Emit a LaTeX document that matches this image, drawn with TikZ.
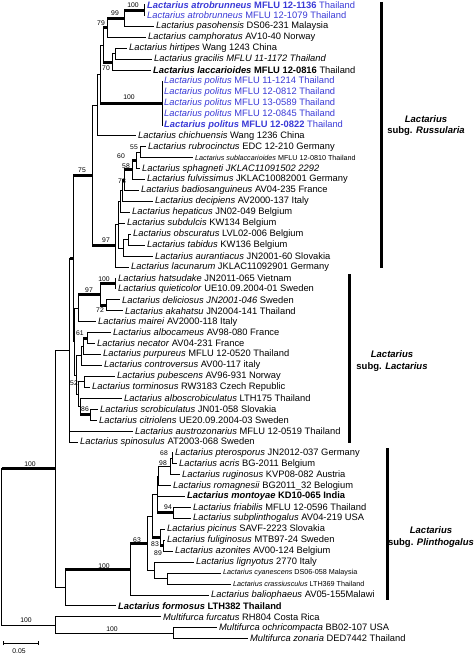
\documentclass[tikz,border=0pt]{standalone}
\usepackage{fontspec}
\setmainfont{Liberation Sans}
\usepackage{xcolor}
\definecolor{taxblue}{RGB}{58,58,214}
\tikzset{
  taxon/.style={anchor=west, inner xsep=1.6pt, inner ysep=0pt, font=\fontsize{9.35}{11}\selectfont},
  taxsmall/.style={taxon, font=\fontsize{7.2}{9}\selectfont},
  tblue/.style={text=taxblue},
  br/.style={line width=0.8pt},
  thk/.style={line width=3pt},
  bs/.style={inner sep=0pt, font=\fontsize{6.8}{8}\selectfont},
  cladebar/.style={line width=3pt},
  clade/.style={align=center, font=\fontsize{9.5}{11.5}\selectfont\bfseries}
}

\begin{document}
\begin{tikzpicture}[x=1pt,y=-1pt]
  \useasboundingbox (0,0) rectangle (474,655);

  % taxa
  \node[taxon,tblue] (t1) at (145.4,4.7) {\textbf{\textit{Lactarius atrobrunneus} MFLU 12-1136} Thailand};
  \node[taxon,tblue] (t2) at (145.4,15.63) {\textit{Lactarius atrobrunneus} MFLU 12-1079 Thailand};
  \node[taxon] (t3) at (154.4,26.56) {\textit{Lactarius pasohensis} DS06-231 Malaysia};
  \node[taxon] (t4) at (146.4,37.49) {\textit{Lactarius camphoratus} AV10-40 Norway};
  \node[taxon] (t5) at (127.4,48.42) {\textit{Lactarius hirtipes} Wang 1243 China};
  \node[taxon] (t6) at (152.4,59.35) {\textit{Lactarius gracilis MFLU 11-1172 Thailand}};
  \node[taxon] (t7) at (151.4,70.28) {\textbf{\textit{Lactarius laccarioides} MFLU 12-0816} Thailand};
  \node[taxon,tblue] (t8) at (162.4,81.21) {\textit{Lactarius politus} MFLU 11-1214 Thailand};
  \node[taxon,tblue] (t9) at (162.4,92.14) {\textit{Lactarius politus} MFLU 12-0812 Thailand};
  \node[taxon,tblue] (t10) at (162.4,103.07) {\textit{Lactarius politus} MFLU 13-0589 Thailand};
  \node[taxon,tblue] (t11) at (162.4,114.0) {\textit{Lactarius politus} MFLU 12-0845 Thailand};
  \node[taxon,tblue] (t12) at (162.4,124.93) {\textbf{\textit{Lactarius politus} MFLU 12-0822} Thailand};
  \node[taxon] (t13) at (136.4,135.86) {\textit{Lactarius chichuensis} Wang 1236 China};
  \node[taxon] (t14) at (146.4,146.79) {\textit{Lactarius rubrocinctus} EDC 12-210 Germany};
  \node[taxsmall] (t15) at (193.4,157.72) {\textit{Lactarius sublaccarioides} MFLU 12-0810 Thailand};
  \node[taxon] (t16) at (140.4,168.65) {\textit{Lactarius sphagneti JKLAC11091502 2292}};
  \node[taxon] (t17) at (145.4,179.58) {\textit{Lactarius fulvissimus} JKLAC10082001 Germany};
  \node[taxon] (t18) at (139.4,190.51) {\textit{Lactarius badiosanguineus} AV04-235 France};
  \node[taxon] (t19) at (153.4,201.44) {\textit{Lactarius decipiens} AV2000-137 Italy};
  \node[taxon] (t20) at (130.4,212.37) {\textit{Lactarius hepaticus} JN02-049 Belgium};
  \node[taxon] (t21) at (125.4,223.3) {\textit{Lactarius subdulcis} KW134 Belgium};
  \node[taxon] (t22) at (131.4,234.23) {\textit{Lactarius obscuratus} LVL02-006 Belgium};
  \node[taxon] (t23) at (145.4,245.16) {\textit{Lactarius tabidus} KW136 Belgium};
  \node[taxon] (t24) at (153.4,256.09) {\textit{Lactarius aurantiacus} JN2001-60 Slovakia};
  \node[taxon] (t25) at (129.4,267.02) {\textit{Lactarius lacunarum} JKLAC11092901 Germany};
  \node[taxon] (t26) at (116.4,277.95) {\textit{Lactarius hatsudake} JN2011-065 Vietnam};
  \node[taxon] (t27) at (116.4,288.88) {\textit{Lactarius quieticolor} UE10.09.2004-01 Sweden};
  \node[taxon] (t28) at (120.4,299.81) {\textit{Lactarius deliciosus JN2001-046} Sweden};
  \node[taxon] (t29) at (123.4,310.74) {\textit{Lactarius akahatsu} JN2004-141 Thailand};
  \node[taxon] (t30) at (96.4,321.67) {\textit{Lactarius mairei} AV2000-118 Italy};
  \node[taxon] (t31) at (111.4,332.6) {\textit{Lactarius albocameus} AV98-080 France};
  \node[taxon] (t32) at (95.4,343.53) {\textit{Lactarius necator} AV04-231 France};
  \node[taxon] (t33) at (101.4,354.46) {\textit{Lactarius purpureus} MFLU 12-0520 Thailand};
  \node[taxon] (t34) at (102.4,365.39) {\textit{Lactarius controversus} AV00-117 italy};
  \node[taxon] (t35) at (115.4,376.32) {\textit{Lactarius pubescens} AV96-931 Norway};
  \node[taxon] (t36) at (90.4,387.25) {\textit{Lactarius torminosus} RW3183 Czech Republic};
  \node[taxon] (t37) at (122.4,398.18) {\textit{Lactarius alboscrobiculatus} LTH175 Thailand};
  \node[taxon] (t38) at (98.4,409.11) {\textit{Lactarius scrobiculatus} JN01-058 Slovakia};
  \node[taxon] (t39) at (97.4,420.04) {\textit{Lactarius citriolens} UE20.09.2004-03 Sweden};
  \node[taxon] (t40) at (133.4,430.97) {\textit{Lactarius austrozonarius} MFLU 12-0519 Thailand};
  \node[taxon] (t41) at (78.4,441.9) {\textit{Lactarius spinosulus} AT2003-068 Sweden};
  \node[taxon] (t42) at (173.4,452.83) {\textit{Lactarius pterosporus} JN2012-037 Germany};
  \node[taxon] (t43) at (177.4,463.76) {\textit{Lactarius acris} BG-2011 Belgium};
  \node[taxon] (t44) at (180.4,474.69) {\textit{Lactarius ruginosus} KVP08-082 Austria};
  \node[taxon] (t45) at (171.4,485.62) {\textit{Lactarius romagnesii} BG2011\_32 Belogium};
  \node[taxon] (t46) at (185.4,496.55) {\textbf{\textit{Lactarius montoyae} KD10-065 India}};
  \node[taxon] (t47) at (191.4,507.48) {\textit{Lactarius friabilis} MFLU 12-0596 Thailand};
  \node[taxon] (t48) at (191.4,518.41) {\textit{Lactarius subplinthogalus} AV04-219 USA};
  \node[taxon] (t49) at (165.4,529.34) {\textit{Lactarius picinus} SAVF-2223 Slovakia};
  \node[taxon] (t50) at (165.4,540.27) {\textit{Lactarius fuliginosus} MTB97-24 Sweden};
  \node[taxon] (t51) at (173.4,551.2) {\textit{Lactarius azonites} AV00-124 Belgium};
  \node[taxon] (t52) at (194.4,562.13) {\textit{Lactarius lignyotus} 2770 Italy};
  \node[taxsmall] (t53) at (221.4,573.06) {\textit{Lactarius cyanescens} DS06-058 Malaysia};
  \node[taxsmall] (t54) at (231.4,583.99) {\textit{Lactarius crassiusculus} LTH369 Thailand};
  \node[taxon] (t55) at (209.4,594.92) {\textit{Lactarius baliophaeus} AV05-155Malawi};
  \node[taxon] (t56) at (116.4,605.85) {\textbf{\textit{Lactarius formosus} LTH382 Thailand}};
  \node[taxon] (t57) at (161.4,616.78) {\textit{Multifurca furcatus} RH804 Costa Rica};
  \node[taxon] (t58) at (217.4,627.71) {\textit{Multifurca ochricompacta} BB02-107 USA};
  \node[taxon] (t59) at (248.4,638.64) {\textit{Multifurca zonaria} DED7442 Thailand};

  % inner nodes, subg. Russularia
  \coordinate (a1) at (144,10.17);
  \coordinate (a2) at (124,18.36);
  \coordinate (a3) at (107,27.93);
  \coordinate (a4) at (115,53.89);
  \coordinate (a5) at (112,62.08);
  \coordinate (a6) at (103,45.0);
  \coordinate (a7) at (162,103.07);
  \coordinate (a8) at (100,74.04);
  \coordinate (a9) at (97,104.95);
  \coordinate (b1) at (140,152.26);
  \coordinate (b2) at (136,160.45);
  \coordinate (b3) at (132,170.0);
  \coordinate (b4) at (124,180.26);
  \coordinate (b5) at (122,190.85);
  \coordinate (b6) at (120.5,201.61);
  \coordinate (b7) at (128,239.7);
  \coordinate (b8) at (123.5,247.9);
  \coordinate (b9) at (118,224.76);
  \coordinate (n6) at (115,245.89);
  \coordinate (n4) at (92,175.42);
  % inner nodes, subg. Lactarius
  \coordinate (c1) at (115,283.42);
  \coordinate (c2) at (106,305.28);
  \coordinate (c3) at (100,294.35);
  \coordinate (c4) at (78,308.01);
  \coordinate (c5) at (87.5,338.07);
  \coordinate (c6) at (83,346.27);
  \coordinate (c7) at (81,355.83);
  \coordinate (c8) at (84,381.79);
  \coordinate (c9) at (90,414.58);
  \coordinate (c10) at (80,406.38);
  \coordinate (c11) at (78,394.09);
  \coordinate (c12) at (76.5,374.96);
  \coordinate (c13) at (74.5,341.49);
  \coordinate (n5) at (73,258.46);
  \coordinate (m0) at (69.5,350.18);
  % inner nodes, subg. Plinthogalus
  \coordinate (d1) at (172,458.3);
  \coordinate (d2) at (170,466.5);
  \coordinate (d3) at (158.5,476.06);
  \coordinate (d4) at (173,512.95);
  \coordinate (d5) at (157,494.5);
  \coordinate (d6) at (163,545.74);
  \coordinate (d7) at (160,537.54);
  \coordinate (d10) at (152,516.02);
  \coordinate (d8) at (167,578.53);
  \coordinate (d9) at (154,570.33);
  \coordinate (p63) at (147,543.18);
  \coordinate (p0) at (130,569.05);
  \coordinate (z0) at (65,587.45);
  \coordinate (w0) at (55,468.8);
  \coordinate (x0) at (173,633.18);
  \coordinate (y0) at (55,624.98);
  \coordinate (root) at (1.5,546.9);

  % branches to taxa
  \draw[br] (a1) |- (t1);  \draw[br] (a1) |- (t2);
  \draw[br] (a2) |- (t3);
  \draw[br] (a3) |- (t4);
  \draw[br] (a4) |- (t5);  \draw[br] (a4) |- (t6);
  \draw[br] (a5) |- (t7);
  \draw[br] (a7) |- (t8);  \draw[br] (a7) |- (t9);  \draw[br] (a7) |- (t10);
  \draw[br] (a7) |- (t11); \draw[br] (a7) |- (t12);
  \draw[br] (a9) |- (t13);
  \draw[br] (b1) |- (t14); \draw[br] (b1) |- (t15);
  \draw[br] (b2) |- (t16);
  \draw[br] (b3) |- (t17);
  \draw[br] (b4) |- (t18);
  \draw[br] (b5) |- (t19);
  \draw[br] (b6) |- (t20);
  \draw[br] (b9) |- (t21);
  \draw[br] (b7) |- (t22); \draw[br] (b7) |- (t23);
  \draw[br] (b8) |- (t24);
  \draw[br] (n6) |- (t25);
  \draw[br] (c1) |- (t26); \draw[br] (c1) |- (t27);
  \draw[br] (c2) |- (t28); \draw[br] (c2) |- (t29);
  \draw[br] (c4) |- (t30);
  \draw[br] (c5) |- (t31); \draw[br] (c5) |- (t32);
  \draw[br] (c6) |- (t33);
  \draw[br] (c7) |- (t34);
  \draw[br] (c8) |- (t35); \draw[br] (c8) |- (t36);
  \draw[br] (c10) |- (t37);
  \draw[br] (c9) |- (t38); \draw[br] (c9) |- (t39);
  \draw[br] (m0) |- (t40); \draw[br] (m0) |- (t41);
  \draw[br] (d1) |- (t42); \draw[br] (d1) |- (t43);
  \draw[br] (d2) |- (t44);
  \draw[br] (d3) |- (t45);
  \draw[br] (d5) |- (t46);
  \draw[br] (d4) |- (t47); \draw[br] (d4) |- (t48);
  \draw[br] (d7) |- (t49);
  \draw[br] (d6) |- (t50); \draw[br] (d6) |- (t51);
  \draw[br] (d9) |- (t52);
  \draw[br] (d8) |- (t53); \draw[br] (d8) |- (t54);
  \draw[br] (p0) |- (t55);
  \draw[br] (z0) |- (t56);
  \draw[br] (y0) |- (t57);
  \draw[br] (x0) |- (t58); \draw[br] (x0) |- (t59);

  % inner branches
  \draw[br] (a2) |- (a1);  \draw[thk] (a2 |- a1) -- (a1);
  \draw[br] (a3) |- (a2);  \draw[thk] (a3 |- a2) -- (a2);
  \draw[br] (a6) |- (a3);  \draw[thk] (a6 |- a3) -- (a3);
  \draw[br] (a5) |- (a4);
  \draw[br] (a6) |- (a5);  \draw[thk] (a6 |- a5) -- (a5);
  \draw[br] (a8) |- (a6);
  \draw[br] (a8) |- (a7);  \draw[thk] (a8 |- a7) -- (a7);
  \draw[br] (a9) |- (a8);
  \draw[br] (n4) |- (a9);
  \draw[br] (b2) |- (b1);
  \draw[br] (b3) |- (b2);  \draw[thk] (b3 |- b2) -- (b2);
  \draw[br] (b4) |- (b3);  \draw[thk] (b4 |- b3) -- (b3);
  \draw[br] (b5) |- (b4);  \draw[thk] (b5 |- b4) -- (b4);
  \draw[br] (b6) |- (b5);
  \draw[br] (b9) |- (b6);
  \draw[br] (b8) |- (b7);
  \draw[br] (b9) |- (b8);
  \draw[br] (n6) |- (b9);
  \draw[br] (n4) |- (n6);  \draw[thk] (n4 |- n6) -- (n6);
  \draw[br] (n5) |- (n4);  \draw[thk] (n5 |- n4) -- (n4);
  \draw[br] (c3) |- (c1);  \draw[thk] (c3 |- c1) -- (c1);
  \draw[br] (c3) |- (c2);  \draw[thk] (c3 |- c2) -- (c2);
  \draw[br] (c4) |- (c3);  \draw[thk] (c4 |- c3) -- (c3);
  \draw[br] (c6) |- (c5);  \draw[thk] (c6 |- c5) -- (c5);
  \draw[br] (c7) |- (c6);
  \draw[br] (c10) |- (c9); \draw[thk] (c10 |- c9) -- (c9);
  \draw[br] (c11) |- (c8);
  \draw[br] (c11) |- (c10);
  \draw[br] (c12) |- (c7);
  \draw[br] (c12) |- (c11);
  \draw[br] (c13) |- (c4);
  \draw[br] (c13) |- (c12);
  \draw[br] (n5) |- (c13);
  \draw[br] (m0) |- (n5);  \draw[thk] (m0 |- n5) -- (n5);
  \draw[br] (d2) |- (d1);
  \draw[br] (d3) |- (d2);
  \draw[br] (d5) |- (d3);
  \draw[br] (d5) |- (d4);  \draw[thk] (d5 |- d4) -- (d4);
  \draw[br] (d7) |- (d6);  \draw[thk] (d7 |- d6) -- (d6);
  \draw[br] (d10) |- (d5);
  \draw[br] (d10) |- (d7); \draw[thk] (d10 |- d7) -- (d7);
  \draw[br] (d9) |- (d8);
  \draw[br] (p63) |- (d10);
  \draw[br] (p63) |- (d9);
  \draw[br] (p0) |- (p63); \draw[thk] (p0 |- p63) -- (p63);
  \draw[br] (z0) |- (p0);  \draw[thk] (z0 |- p0) -- (p0);
  \draw[br] (w0) |- (m0);
  \draw[br] (w0) |- (z0);
  \draw[br] (root) |- (w0); \draw[thk] (root |- w0) -- (w0);
  \draw[br] (y0) |- (x0);
  \draw[br] (root) |- (y0);

  % support values
  \node[bs] (s1) at (133,5) {100};
  \node[bs] (s2) at (115,13) {99};
  \node[bs] (s3) at (101,23) {79};
  \node[bs] (s4) at (106,68) {70};
  \node[bs] (s5) at (129,97.5) {100};
  \node[bs] (s6) at (82,170) {75};
  \node[bs] (s7) at (134,147.5) {55};
  \node[bs] (s8) at (121,156) {60};
  \node[bs] (s9) at (126,166) {58};
  \node[bs] (s10) at (122,181) {78};
  \node[bs] (s11) at (106,240.5) {97};
  \node[bs] (s12) at (104,279) {100};
  \node[bs] (s13) at (89,290) {97};
  \node[bs] (s14) at (100,310) {72};
  \node[bs] (s15) at (80,333) {61};
  \node[bs] (s16) at (74,383) {52};
  \node[bs] (s17) at (85,409) {86};
  \node[bs] (s18) at (30,464) {100};
  \node[bs] (s19) at (164,453) {68};
  \node[bs] (s20) at (163,463) {98};
  \node[bs] (s21) at (168,507) {94};
  \node[bs] (s22) at (137,540) {63};
  \node[bs] (s23) at (155,544) {83};
  \node[bs] (s24) at (158,553) {89};
  \node[bs] (s25) at (104,566) {100};
  \node[bs] (s26) at (26,620) {100};
  \node[bs] (s27) at (112,629) {100};

  % subgenera
  \draw[cladebar] (381.5,2) -- (381.5,268);
  \draw[cladebar] (349,274) -- (349,443);
  \draw[cladebar] (387,448) -- (387,600);
  \node[clade] (russ) at (426,125.5) {\textit{Lactarius}\\subg. \textit{Russularia}};
  \node[clade] (lact) at (392,361) {\textit{Lactarius}\\subg. \textit{Lactarius}};
  \node[clade] (plin) at (431,537) {\textit{Lactarius}\\subg. \textit{Plinthogalus}};

  % scale
  \coordinate (sc1) at (3,643);
  \coordinate (sc2) at (38,643);
  \draw[br] (sc1) -- (sc2);
  \draw[br] ([yshift=-2pt]sc1) -- ([yshift=2pt]sc1);
  \draw[br] ([yshift=-2pt]sc2) -- ([yshift=2pt]sc2);
  \node[bs] (sclab) at (19,651) {0.05};
\end{tikzpicture}
\end{document}
